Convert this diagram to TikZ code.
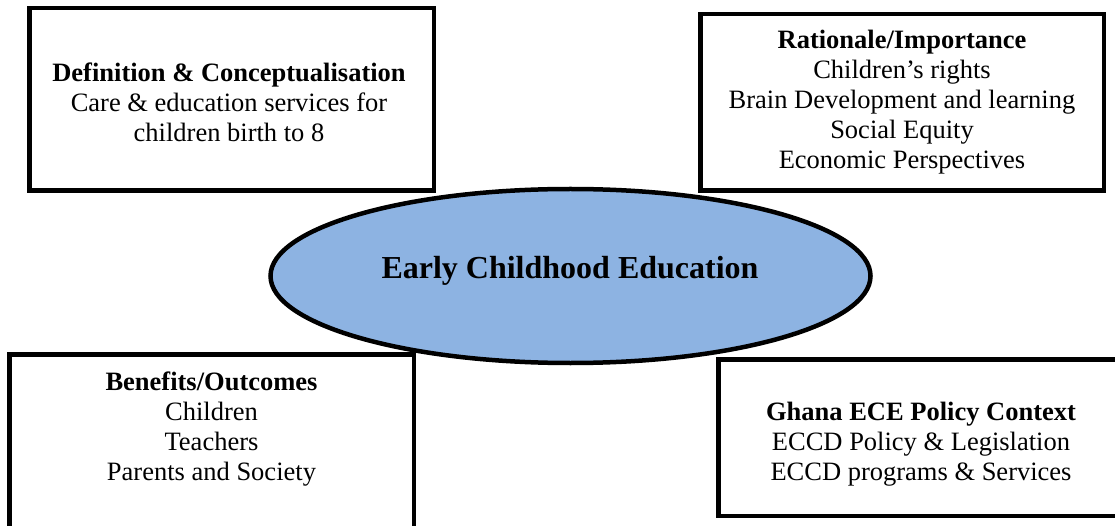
\documentclass[tikz,border=0pt]{standalone}
\usepackage{fontspec}
\setmainfont{Liberation Serif}
\usetikzlibrary{shapes.geometric}
\definecolor{ellblue}{RGB}{141,179,226}
\begin{document}
\begin{tikzpicture}[x=1pt,y=-1pt,
  box/.style={draw=black, line width=4.5pt, fill=white, rectangle, inner sep=0pt},
  txt/.style={align=center, font=\fontsize{26.5}{30}\selectfont, inner sep=0pt, anchor=base},
  oval/.style={draw=black, line width=4.5pt, fill=ellblue, ellipse, inner sep=0pt}]
\useasboundingbox (0,0) rectangle (1115,526);
\clip (0,0) rectangle (1115,526);
% boxes
\node[box, minimum width=404.5pt, minimum height=182.5pt] (def) at (231.5,99.5) {};
\node[box, minimum width=403.5pt, minimum height=176.5pt] (rat) at (902,102.5) {};
\node[box, minimum width=404.5pt, minimum height=173.5pt] (ben) at (211.5,441) {};
\node[box, minimum width=401.5pt, minimum height=156.5pt] (gha) at (919,437.5) {};
% texts (base anchor = baseline of the last line)
\node[txt] (deft) at (229,141.5) {\textbf{Definition \& Conceptualisation}\\Care \& education services for\\children birth to 8};
\node[txt] (ratt) at (902,168.5) {\textbf{Rationale/Importance}\\Children’s rights\\Brain Development and learning\\Social Equity\\Economic Perspectives};
\node[txt] (bent) at (211.5,480.5) {\textbf{Benefits/Outcomes}\\Children\\Teachers\\Parents and Society};
\node[txt] (ghat) at (921,480.5) {\textbf{Ghana ECE Policy Context}\\ECCD Policy \& Legislation\\ECCD programs \& Services};
% central ellipse
\node[oval, minimum width=600pt, minimum height=174pt] (ece) at (570.5,276) {};
\node[inner sep=0pt, anchor=base, font=\fontsize{32}{36}\selectfont\bfseries] (ecet) at (570,279) {Early Childhood Education};
\end{tikzpicture}
\end{document}
